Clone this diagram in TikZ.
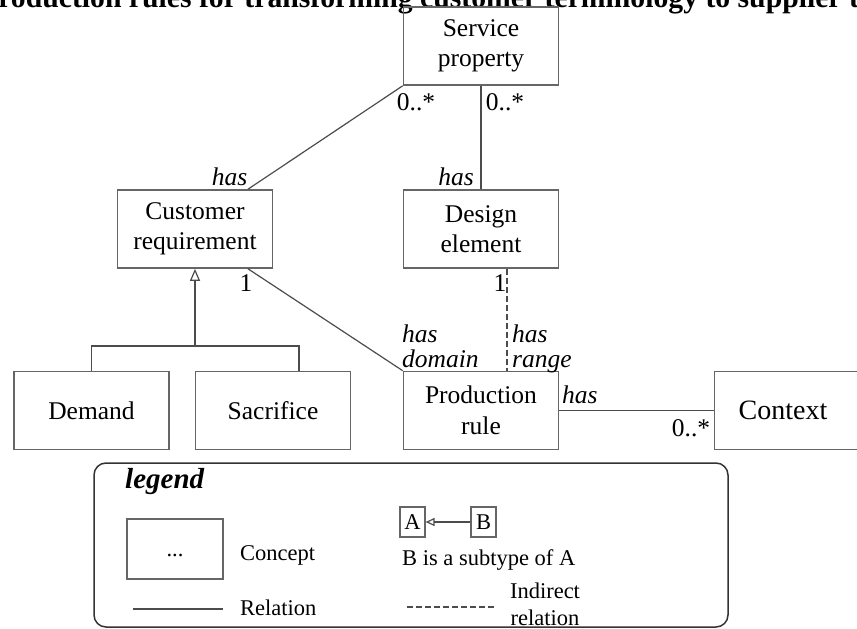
\documentclass[tikz,border=0pt]{standalone}
\usepackage{fontspec}
\setmainfont{Liberation Serif}
\usepackage{tikz}
\usetikzlibrary{arrows.meta,positioning,calc}

\begin{document}
\begin{tikzpicture}[
  x=1pt, y=-1pt,
  box/.style={draw=black!60, line width=1.6pt, align=center, inner sep=0pt, minimum width=155pt, minimum height=78pt, font=\fontsize{25.5}{30.5}\selectfont},
  rel/.style={draw=black!70, line width=1.2pt},
  ind/.style={rel, dash pattern=on 6pt off 3pt},
  sub/.style={rel, -{Triangle[open, width=10pt, length=12pt]}},
  lbl/.style={inner sep=0pt, font=\fontsize{25.5}{25}\selectfont},
  rol/.style={inner sep=0pt, font=\fontsize{25.5}{25}\selectfont\itshape, align=left},
  leg/.style={inner sep=0pt, font=\fontsize{22.5}{27}\selectfont},
  smallbox/.style={draw=black!60, line width=1.2pt, inner sep=0pt, minimum width=25pt, minimum height=30pt, font=\fontsize{22.5}{27}\selectfont}
]
\useasboundingbox (0,0) rectangle (857,629);
\clip (0,0) rectangle (857,629);

% title, cut off at the top
\node[anchor=base west, inner sep=0pt, font=\fontsize{29.7}{34}\selectfont\bfseries] (title) at (-20,7) {Production rules for transforming customer terminology to supplier terminology};

% concepts
\node[box] (sp) at (481,46) {Service\\property};
\node[box] (cr) at (195,229) {Customer\\requirement};
\node[box] (de) at (481,229) {Design\\element};
\node[box] (pr) at (481,410.5) {Production\\rule};
\node[box] (dem) at (91.5,410.5) {Demand};
\node[box] (sac) at (273,410.5) {Sacrifice};
\node[box, font=\fontsize{28}{33}\selectfont] (ctx) at (792,410.5) {Context\hspace{18pt}};

% relations
\draw[rel] (sp.south west) -- ([xshift=53pt]cr.north);
\draw[rel] (sp.south) -- (de.north);
\draw[rel] ([xshift=53pt]cr.south) -- (pr.north west);
\draw[ind] ([xshift=26pt]de.south) -- ([xshift=26pt]pr.north);
\draw[rel] (pr.east) -- (ctx.west);

% subtypes
\coordinate (fork) at (195,346);
\draw[rel] (dem.north) |- (fork) -| ([xshift=26pt]sac.north);
\draw[sub] (fork) -- (cr.south);

% multiplicities and roles
\node[lbl, anchor=base] (m1) at (416,110) {0..*};
\node[lbl, anchor=base] (m2) at (505,110) {0..*};
\node[rol, anchor=base] (r1) at (229.5,185) {has};
\node[rol, anchor=base] (r2) at (456,185) {has};
\node[lbl, anchor=base] (m3) at (246,291) {1};
\node[lbl, anchor=base] (m4) at (500,291) {1};
\node[rol, anchor=north west] (r3) at (402,325) {has\\domain};
\node[rol, anchor=north west] (r4) at (512,325) {has\\range};
\node[rol, anchor=base west] (r5) at (562,403) {has};
\node[lbl, anchor=base] (m5) at (691,436) {0..*};

% legend
\node[draw=black!80, line width=1.5pt, rounded corners=12pt, minimum width=634pt, minimum height=164pt] (legbox) at (411,545) {};
\node[anchor=base west, inner sep=0pt, font=\fontsize{29}{34}\selectfont\bfseries\itshape] (legtitle) at (125,488) {legend};
\node[draw=black!60, line width=1.2pt, minimum width=96pt, minimum height=60pt, inner sep=0pt, font=\fontsize{22.5}{27}\selectfont] (lconcept) at (175,549) {};
\node[leg, anchor=base] (tdots) at ([yshift=-7pt]lconcept.center) {...};
\node[leg, anchor=base west] (tconcept) at (240,560) {Concept};
\coordinate (lr1) at (133,609);
\coordinate (lr2) at (223,609);
\draw[rel] (lr1) -- (lr2);
\node[leg, anchor=base west] (trel) at (240,615) {Relation};
\node[smallbox] (la) at (412.5,522) {A};
\node[smallbox] (lb) at (483.5,522) {B};
\draw[rel, -{Triangle[open, width=8pt, length=9pt]}] (lb) -- (la);
\node[leg, anchor=base west] (tsub) at (402,565) {B is a subtype of A};
\coordinate (li1) at (407,607);
\coordinate (li2) at (495,607);
\draw[ind] (li1) -- (li2);
\node[leg, align=center, anchor=north] (tind) at (545,583) {Indirect\\relation};
\end{tikzpicture}
\end{document}
